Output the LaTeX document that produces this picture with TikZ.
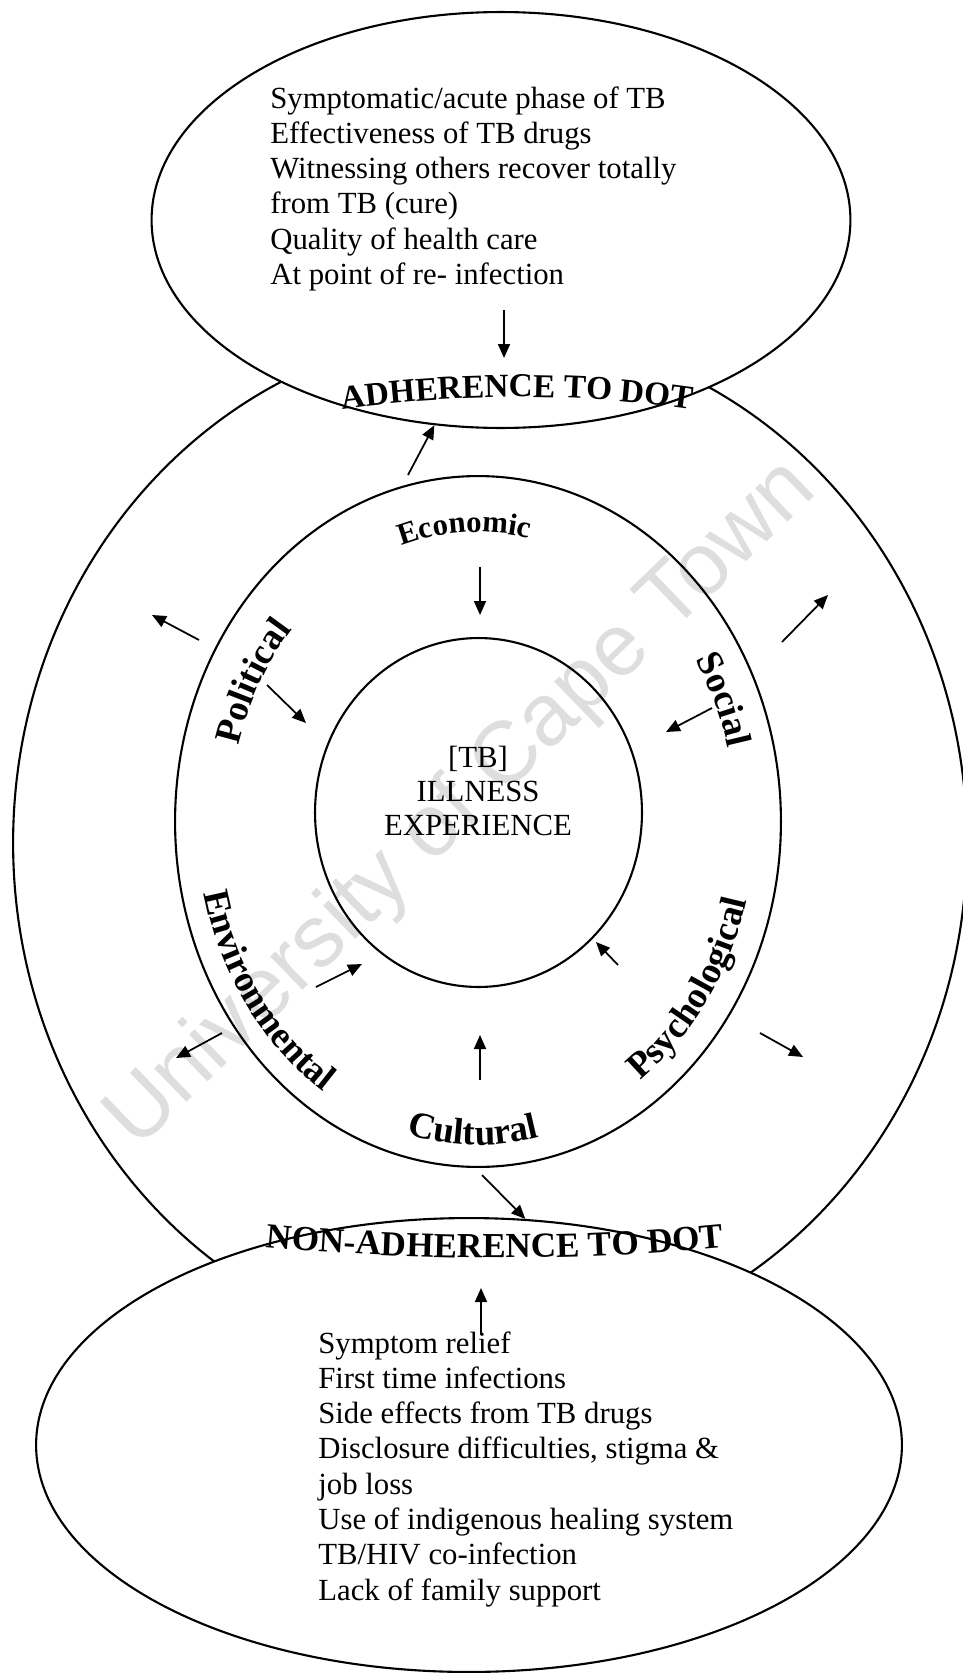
\documentclass[tikz,border=0pt]{standalone}
\usepackage{fontspec}
\setmainfont{Liberation Serif}
\setsansfont{Liberation Sans}
\usetikzlibrary{arrows.meta, shapes.geometric, decorations.text}

\begin{document}
\begin{tikzpicture}[
        x=0.02cm, y=-0.02cm,
        ring/.style={draw, ellipse, line width=1.2pt, inner sep=0pt},
        listtext/.style={anchor=north west, align=left, inner sep=0pt, font=\fontsize{17.5}{20.1}\selectfont},
        influence/.style={-{Triangle[length=0.28cm, width=0.24cm]}, line width=1pt},
        arctext/.style={decorate, decoration={text along path, text align=center, text={#1}}},
        factor/.style={arctext={|\bfseries\fontsize{21}{25}\selectfont|#1}},
    ]
    \useasboundingbox (0,0) rectangle (963,1673);

    % Watermark
    \node[rotate=44, text=black!13, font=\sffamily\fontsize{50}{60}\selectfont] (mark) at (462,805) {University of Cape Town};

    % Ellipses
    \node[ring, minimum width=19.08cm, minimum height=20.52cm] (outer) at (490,843) {};
    \node[ring, fill=white, minimum width=13.98cm, minimum height=8.32cm] (adh) at (501,220) {};
    \node[ring, fill=white, minimum width=17.32cm, minimum height=9.08cm] (nonadh) at (469,1445) {};
    \node[ring, minimum width=12.12cm, minimum height=13.82cm] (factors) at (478,821.5) {};
    \node[ring, minimum width=6.54cm, minimum height=6.98cm] (core) at (478.5,812.5) {};

    % Lists
    \node[listtext] (adhlist) at (270,86) {Symptomatic/acute phase of TB\\
        Effectiveness of TB drugs\\
        Witnessing others recover totally\\
        from TB (cure)\\
        Quality of health care\\
        At point of re- infection};
    \node[listtext] (nonlist) at (318,1331) {Symptom relief\\
        First time infections\\
        Side effects from TB drugs\\
        Disclosure difficulties, stigma \&\\
        job loss\\
        Use of indigenous healing system\\
        TB/HIV co-infection\\
        Lack of family support};

    % Centre
    \node[align=center, font=\fontsize{17.5}{19.3}\selectfont] (illness) at (478,791) {[TB]\\ ILLNESS\\ EXPERIENCE};

    % Arched headings
    \path[arctext={|\bfseries\fontsize{19}{23}\selectfont|ADHERENCE TO DOT}]
        plot[domain=-104:-76, samples=41, variable=\t] ({517+1233*cos(\t)}, {1630+1233*sin(\t)});
    \path[arctext={|\bfseries\fontsize{20}{24}\selectfont|NON-ADHERENCE TO DOT}]
        plot[domain=97:83, samples=41, variable=\t] ({495+2446*cos(\t)}, {-1188+2446*sin(\t)});

    % Factors round the ring
    \path[arctext={|\bfseries\fontsize{17.5}{21}\selectfont|Economic}]
        plot[domain=242:292, samples=51, variable=\t] ({478+247*cos(\t)}, {821.5+289.5*sin(\t)});
    \path[factor=Political]
        plot[domain=179:239, samples=61, variable=\t] ({478+248*cos(\t)}, {821.5+290.5*sin(\t)});
    \path[factor=Social]
        plot[domain=306:366, samples=61, variable=\t] ({478+258*cos(\t)}, {821.5+300.5*sin(\t)});
    \path[factor=Environmental]
        plot[domain=180:109, samples=72, variable=\t] ({478+281*cos(\t)}, {821.5+323.5*sin(\t)});
    \path[factor=Psychological]
        plot[domain=70:0, samples=71, variable=\t] ({478+277*cos(\t)}, {821.5+319.5*sin(\t)});
    \path[factor=Cultural]
        plot[domain=116:66, samples=51, variable=\t] ({478+281*cos(\t)}, {821.5+323.5*sin(\t)});

    % Arrow ends
    \coordinate (adh-src) at (504,310);
    \coordinate (adh-dst) at (504,358);
    \coordinate (up-src) at (408,475);
    \coordinate (eco-src) at (480,567);
    \coordinate (eco-dst) at (480,615);
    \coordinate (pol-src) at (267,685);
    \coordinate (pol-dst) at (306,723);
    \coordinate (nw-src) at (199,640);
    \coordinate (nw-dst) at (152,615);
    \coordinate (ne-src) at (782,642);
    \coordinate (ne-dst) at (828,595);
    \coordinate (soc-src) at (712,708);
    \coordinate (soc-dst) at (666,732);
    \coordinate (env-src) at (316,987);
    \coordinate (env-dst) at (362,964);
    \coordinate (psy-src) at (618,965);
    \coordinate (psy-dst) at (596,942);
    \coordinate (sw-src) at (222,1033);
    \coordinate (sw-dst) at (176,1058);
    \coordinate (se-src) at (760,1033);
    \coordinate (se-dst) at (803,1057);
    \coordinate (cul-src) at (480,1080);
    \coordinate (cul-dst) at (480,1035);
    \coordinate (down-src) at (482,1175);
    \coordinate (non-src) at (481,1335);
    \coordinate (non-dst) at (481,1288);

    % Arrows
    \draw[influence] (adh-src) -- (adh-dst);
    \draw[influence] (up-src) -- (adh.252);
    \draw[influence] (eco-src) -- (eco-dst);
    \draw[influence] (pol-src) -- (pol-dst);
    \draw[influence] (nw-src) -- (nw-dst);
    \draw[influence] (ne-src) -- (ne-dst);
    \draw[influence] (soc-src) -- (soc-dst);
    \draw[influence] (env-src) -- (env-dst);
    \draw[influence] (psy-src) -- (psy-dst);
    \draw[influence] (sw-src) -- (sw-dst);
    \draw[influence] (se-src) -- (se-dst);
    \draw[influence] (cul-src) -- (cul-dst);
    \draw[influence] (down-src) -- (nonadh.76);
    \draw[influence] (non-src) -- (non-dst);
\end{tikzpicture}
\end{document}
